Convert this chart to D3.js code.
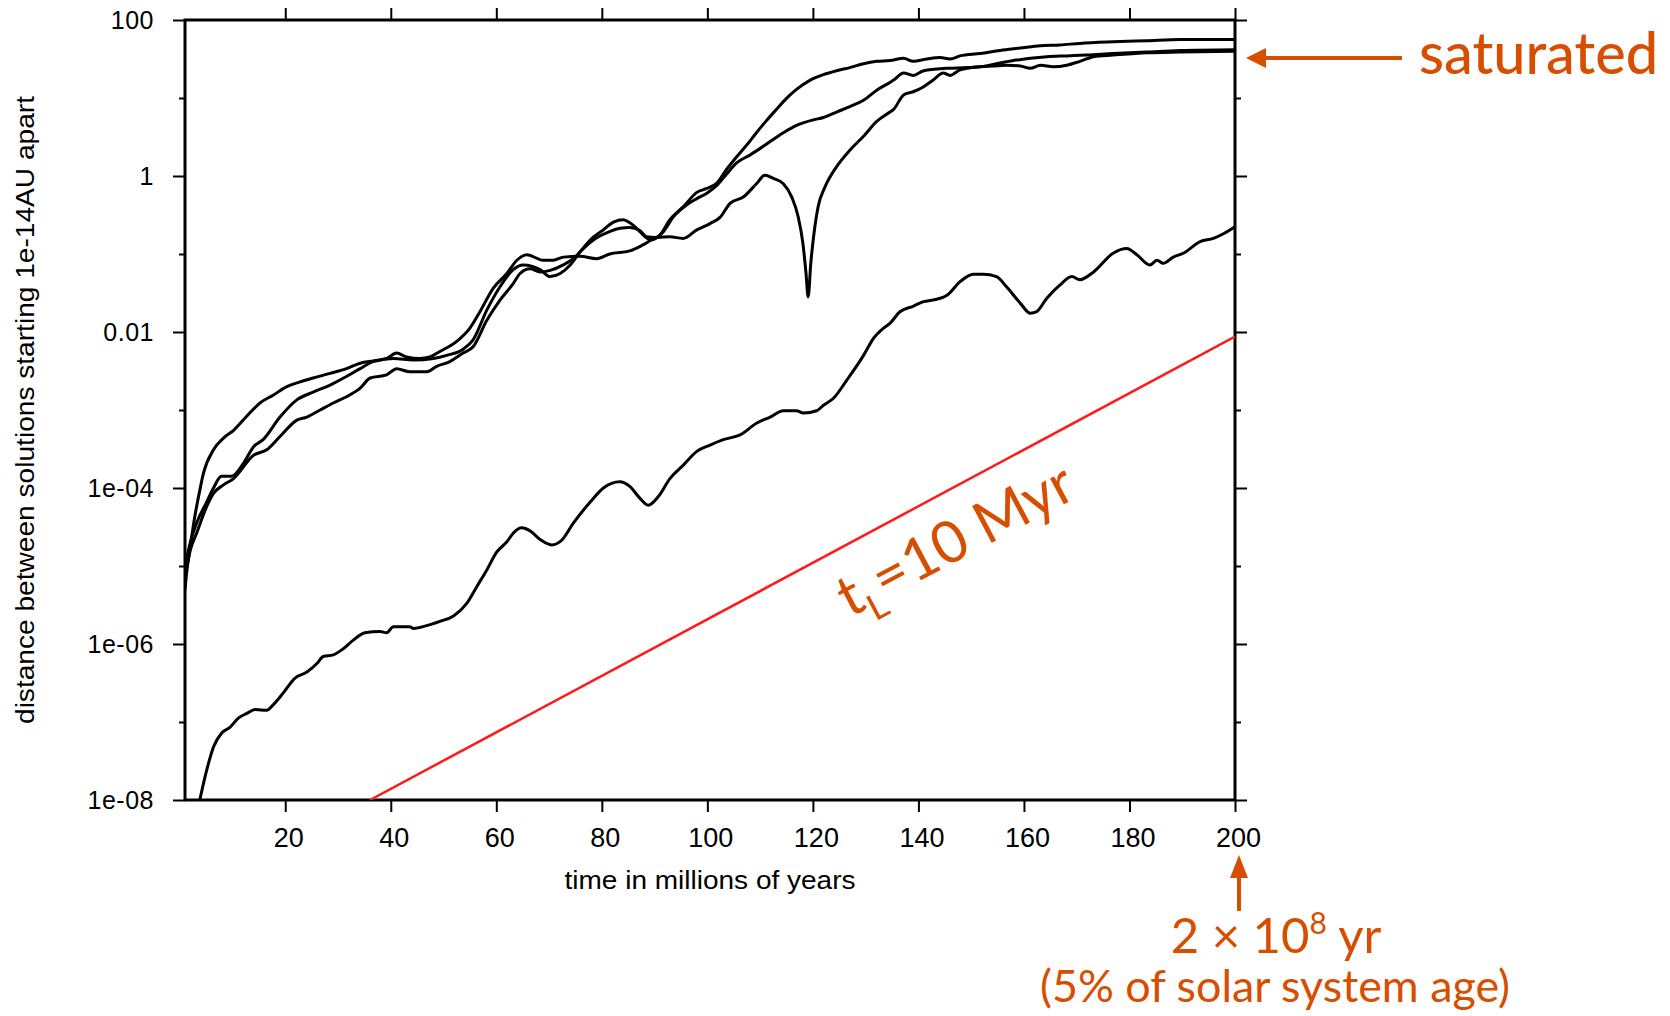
<!DOCTYPE html>
<html><head><meta charset="utf-8">
<script src="https://cdn.jsdelivr.net/npm/d3@7"></script>
<style>
html,body{margin:0;padding:0;background:#fff;}
svg{display:block;}
</style></head><body>
<svg id="chart" width="1670" height="1016"></svg>
<script>
// ---------------- data ----------------
const xTickValues = [20,40,60,80,100,120,140,160,180,200];
const yTickValues = [100, 1, 0.01, 1e-4, 1e-6, 1e-8];
const yTickLabels = ["100","1","0.01","1e-04","1e-06","1e-08"];
const yMinorTickValues = [10, 0.1, 1e-3, 1e-5, 1e-7];

// each point: [time in Myr, log10(distance in AU)]
const runA = [[1.0,-5.0],[2.0,-4.7],[3.2,-4.45],[5.1,-4.18],[6.4,-4.0],[7.9,-3.85],[9.8,-3.85],[12.1,-3.68],[14.0,-3.47],[15.8,-3.38],[19.0,-3.09],[22.2,-2.87],[25.3,-2.77],[28.5,-2.68],[31.6,-2.57],[34.2,-2.47],[36.7,-2.38],[40.5,-2.34],[44.3,-2.36],[48.1,-2.34],[50.6,-2.30],[53.7,-2.22],[55.6,-2.10],[58.2,-1.72],[60.7,-1.42],[63.2,-1.20],[65.1,-1.14],[68.3,-1.20],[70.2,-1.29],[72.1,-1.25],[74.0,-1.14],[75.9,-0.97],[77.8,-0.82],[80.3,-0.69],[82.2,-0.59],[84.1,-0.56],[85.3,-0.60],[86.9,-0.69],[88.2,-0.78],[89.4,-0.82],[91.0,-0.76],[92.9,-0.56],[95.5,-0.39],[98.0,-0.21],[99.9,-0.16],[101.8,-0.09],[103.7,0.09],[105.6,0.25],[107.5,0.40],[109.3,0.555],[111.2,0.71],[113.1,0.855],[115.0,0.995],[116.9,1.11],[119.5,1.23],[122.0,1.30],[124.5,1.35],[127.0,1.39],[129.6,1.44],[132.1,1.47],[134.6,1.48],[137.2,1.51],[139.0,1.47],[141.6,1.50],[144.1,1.52],[146.0,1.50],[147.9,1.54],[151.7,1.57],[155.5,1.61],[159.3,1.64],[163.1,1.67],[166.8,1.68],[170.6,1.70],[176.9,1.72],[183.3,1.735],[189.6,1.75],[200,1.75]];

const runB = [[1.0,-5.3],[1.3,-5.09],[2.0,-4.75],[2.9,-4.35],[3.8,-4.03],[4.5,-3.81],[6.4,-3.51],[8.3,-3.36],[10.2,-3.26],[12.7,-3.08],[15.2,-2.91],[17.7,-2.81],[20.3,-2.70],[22.8,-2.64],[25.3,-2.59],[28.5,-2.53],[31.6,-2.47],[34.2,-2.40],[36.7,-2.37],[39.2,-2.34],[41.1,-2.27],[43.0,-2.32],[45.5,-2.34],[47.4,-2.32],[49.3,-2.25],[52.5,-2.12],[55.0,-1.95],[56.9,-1.74],[59.4,-1.44],[62.0,-1.25],[63.9,-1.08],[65.8,-1.01],[68.9,-1.08],[70.8,-1.08],[72.7,-1.04],[75.9,-1.03],[79.0,-1.06],[81.5,-1.00],[85.3,-0.96],[87.9,-0.88],[90.4,-0.79],[92.9,-0.78],[95.4,-0.80],[98.0,-0.69],[100.5,-0.61],[102.4,-0.53],[104.3,-0.35],[106.8,-0.27],[109.3,-0.10],[110.9,0.01],[112.5,-0.03],[114.4,-0.10],[116.0,-0.27],[117.2,-0.52],[118.1,-0.86],[118.7,-1.25],[119.1,-1.55],[119.6,-1.12],[120.2,-0.74],[121.0,-0.39],[122.3,-0.14],[124.5,0.12],[127.0,0.33],[129.6,0.51],[132.1,0.70],[134.6,0.82],[135.3,0.855],[137.2,1.04],[139.0,1.08],[141.0,1.145],[142.8,1.23],[144.7,1.32],[146.0,1.29],[147.9,1.36],[151.7,1.40],[154.2,1.41],[156.7,1.42],[159.3,1.41],[161.2,1.38],[163.1,1.42],[165.6,1.40],[168.1,1.42],[170.6,1.47],[173.2,1.53],[176.9,1.55],[183.3,1.58],[189.6,1.59],[200,1.60]];

const runC = [[1.0,-5.15],[2.0,-4.8],[3.2,-4.58],[5.1,-4.24],[6.4,-4.07],[8.3,-3.96],[10.2,-3.88],[14.0,-3.58],[16.5,-3.51],[19.0,-3.34],[22.2,-3.13],[24.1,-3.09],[26.6,-3.00],[29.1,-2.91],[31.6,-2.83],[34.2,-2.72],[36.1,-2.59],[39.2,-2.55],[41.1,-2.47],[43.6,-2.51],[46.8,-2.51],[48.7,-2.44],[51.2,-2.38],[53.7,-2.27],[55.6,-2.19],[58.2,-1.85],[60.7,-1.59],[63.2,-1.38],[64.5,-1.25],[66.4,-1.19],[68.3,-1.23],[70.2,-1.21],[72.7,-1.14],[74.6,-1.06],[76.5,-0.93],[78.4,-0.82],[80.9,-0.73],[83.5,-0.67],[85.3,-0.66],[87.2,-0.70],[88.5,-0.78],[90.1,-0.79],[91.7,-0.71],[93.6,-0.52],[96.1,-0.37],[98.0,-0.29],[99.9,-0.22],[101.8,-0.12],[103.7,0.03],[105.6,0.17],[108.1,0.27],[110.6,0.38],[113.8,0.53],[116.9,0.65],[120.1,0.72],[122.0,0.75],[124.5,0.82],[127.0,0.89],[129.6,0.97],[132.1,1.10],[134.6,1.20],[135.3,1.23],[137.2,1.32],[139.0,1.29],[141.0,1.35],[145.4,1.38],[149.2,1.39],[151.7,1.40],[154.8,1.44],[158.0,1.48],[161.2,1.51],[164.3,1.53],[168.1,1.54],[171.9,1.55],[176.9,1.57],[183.3,1.59],[189.6,1.61],[200,1.62]];

const runLow = [[3.8,-8.0],[5.1,-7.62],[6.4,-7.32],[7.95,-7.14],[9.5,-7.07],[11.1,-6.95],[12.7,-6.89],[14.3,-6.84],[16.5,-6.85],[17.7,-6.78],[19.6,-6.63],[21.8,-6.44],[24.1,-6.36],[26.0,-6.25],[27.2,-6.16],[29.1,-6.14],[31.0,-6.06],[32.9,-5.95],[35.1,-5.855],[38.0,-5.84],[39.2,-5.855],[40.5,-5.78],[43.6,-5.78],[44.3,-5.80],[46.8,-5.765],[49.3,-5.71],[51.9,-5.64],[54.4,-5.48],[56.3,-5.265],[58.2,-5.05],[60.1,-4.82],[62.0,-4.69],[63.2,-4.58],[64.8,-4.51],[66.4,-4.55],[68.3,-4.66],[70.5,-4.73],[72.4,-4.67],[74.6,-4.45],[77.8,-4.18],[80.3,-4.00],[83.4,-3.92],[85.3,-3.98],[87.2,-4.13],[88.8,-4.22],[90.7,-4.11],[92.9,-3.88],[95.4,-3.71],[98.0,-3.53],[100.5,-3.45],[103.0,-3.38],[106.2,-3.32],[109.3,-3.17],[111.9,-3.09],[114.4,-3.01],[116.9,-3.01],[118.2,-3.04],[120.7,-3.01],[122.0,-2.94],[123.9,-2.85],[126.4,-2.62],[129.6,-2.30],[131.5,-2.08],[133.4,-1.95],[134.6,-1.89],[136.5,-1.74],[139.0,-1.67],[141.0,-1.61],[142.8,-1.59],[145.4,-1.53],[147.9,-1.355],[150.4,-1.26],[152.3,-1.26],[154.8,-1.29],[156.7,-1.42],[159.3,-1.63],[161.2,-1.76],[162.4,-1.74],[164.3,-1.57],[166.8,-1.40],[169.1,-1.29],[170.6,-1.33],[173.2,-1.23],[176.9,-0.99],[179.5,-0.93],[181.4,-1.01],[183.9,-1.14],[185.2,-1.08],[186.4,-1.12],[188.3,-1.04],[190.2,-0.99],[193.4,-0.84],[195.9,-0.80],[197.8,-0.74],[200,-0.65]];

const lyapunovLine = [[36.06,-8.0],[200,-2.06]];

// ---------------- layout ----------------
const svg = d3.select("#chart");
const plot = {left:185, right:1235, top:20, bottom:800};
const x = d3.scaleLinear().domain([1,200]).range([plot.left, plot.right]);
const y = d3.scaleLog().domain([1e-8, 100]).range([plot.bottom, plot.top]);
const axisFont = "'Liberation Sans', Arial, Helvetica, sans-serif";
const annoFont = "Lato, 'Open Sans', sans-serif";
const orange = "#d84e00";

svg.append("rect").attr("width",1670).attr("height",1016).attr("fill","#fff");

svg.append("clipPath").attr("id","clip").append("rect")
  .attr("x",plot.left).attr("y",plot.top)
  .attr("width",plot.right-plot.left).attr("height",plot.bottom-plot.top);

function styleAxis(g){
  g.select(".domain").remove();
  g.selectAll(".tick line").attr("stroke","#000").attr("stroke-width",2);
  g.selectAll(".tick text").attr("fill","#000").style("font-family",axisFont);
}

// left axis
svg.append("g").attr("transform",`translate(${plot.left},0)`)
  .call(d3.axisLeft(y).tickValues(yTickValues).tickFormat((d,i)=>yTickLabels[i]).tickSize(12).tickPadding(19))
  .call(styleAxis)
  .call(g=>g.selectAll(".tick text").style("font-size","25px").style("letter-spacing","0.5px"));
svg.append("g").attr("transform",`translate(${plot.left},0)`)
  .call(d3.axisLeft(y).tickValues(yMinorTickValues).tickFormat("").tickSize(6))
  .call(styleAxis);
// right axis
svg.append("g").attr("transform",`translate(${plot.right},0)`)
  .call(d3.axisRight(y).tickValues(yTickValues).tickFormat("").tickSize(12))
  .call(styleAxis);
svg.append("g").attr("transform",`translate(${plot.right},0)`)
  .call(d3.axisRight(y).tickValues(yMinorTickValues).tickFormat("").tickSize(6))
  .call(styleAxis);
// bottom axis
svg.append("g").attr("transform",`translate(0,${plot.bottom})`)
  .call(d3.axisBottom(x).tickValues(xTickValues).tickFormat(d3.format("d")).tickSize(12).tickPadding(16))
  .call(styleAxis)
  .call(g=>g.selectAll(".tick text").style("font-size","27px").attr("dx","3"));
// top axis
svg.append("g").attr("transform",`translate(0,${plot.top})`)
  .call(d3.axisTop(x).tickValues(xTickValues).tickFormat("").tickSize(12))
  .call(styleAxis);

// frame
svg.append("rect").attr("x",plot.left).attr("y",plot.top)
  .attr("width",plot.right-plot.left).attr("height",plot.bottom-plot.top)
  .attr("fill","none").attr("stroke","#000").attr("stroke-width",3);

// axis titles
svg.append("text").attr("x",(plot.left+plot.right)/2).attr("y",889)
  .attr("text-anchor","middle").style("font-family",axisFont).style("font-size","26px")
  .attr("textLength",291).attr("lengthAdjust","spacingAndGlyphs")
  .text("time in millions of years");
svg.append("text").attr("transform",`translate(34,${(plot.top+plot.bottom)/2}) rotate(-90)`)
  .attr("text-anchor","middle").style("font-family",axisFont).style("font-size","25px")
  .attr("textLength",628).attr("lengthAdjust","spacingAndGlyphs")
  .text("distance between solutions starting 1e-14AU apart");

// curves
const line = d3.line().x(d=>x(d[0])).y(d=>y(Math.pow(10,d[1]))).curve(d3.curveMonotoneX);
const curves = svg.append("g").attr("clip-path","url(#clip)");
[runA, runB, runC, runLow].forEach(s=>{
  curves.append("path").datum(s).attr("d",line)
    .attr("fill","none").attr("stroke","#000").attr("stroke-width",3)
    .attr("stroke-linejoin","round").attr("stroke-linecap","round");
});
curves.append("path").datum(lyapunovLine).attr("d",d3.line().x(d=>x(d[0])).y(d=>y(Math.pow(10,d[1]))))
  .attr("fill","none").attr("stroke","#ff1a1a").attr("stroke-width",2.5);

// annotations
// "saturated" arrow
const satY = 58;
svg.append("line").attr("x1",1402).attr("x2",1262).attr("y1",satY).attr("y2",satY)
  .attr("stroke",orange).attr("stroke-width",4);
svg.append("path").attr("d",`M${plot.right+11},${satY} L${plot.right+31},${satY-10} L${plot.right+31},${satY+10} Z`)
  .attr("fill",orange);
svg.append("text").attr("x",1419).attr("y",74).attr("fill",orange)
  .style("font-family",annoFont).style("font-size","58px").style("font-weight","500")
  .attr("textLength",239).attr("lengthAdjust","spacingAndGlyphs")
  .text("saturated");

// vertical arrow under 200
const ax = x(200)+4;
svg.append("line").attr("x1",ax).attr("x2",ax).attr("y1",872).attr("y2",911)
  .attr("stroke",orange).attr("stroke-width",4);
svg.append("path").attr("d",`M${ax},855 L${ax-9},878 L${ax+9},878 Z`).attr("fill",orange);

const t1 = svg.append("text").attr("x",1276).attr("y",953).attr("text-anchor","middle")
  .attr("fill",orange).style("font-family",annoFont).style("font-size","49px");
t1.append("tspan").text("2 × 10");
t1.append("tspan").attr("dy",-19).style("font-size","30px").text("8");
t1.append("tspan").attr("dy",19).text(" yr");
svg.append("text").attr("x",1275).attr("y",1002).attr("text-anchor","middle")
  .attr("fill",orange).style("font-family",annoFont).style("font-size","45px")
  .attr("textLength",470).attr("lengthAdjust","spacingAndGlyphs")
  .text("(5% of solar system age)");

// t_L = 10 Myr
const tl = svg.append("text").attr("transform","translate(850,618) rotate(-28)")
  .attr("fill",orange).style("font-family",annoFont).style("font-size","58px");
tl.append("tspan").text("t");
tl.append("tspan").attr("dy",15).style("font-size","36px").text("L");
tl.append("tspan").attr("dy",-15).text("=10 Myr");
</script>
</body></html>
